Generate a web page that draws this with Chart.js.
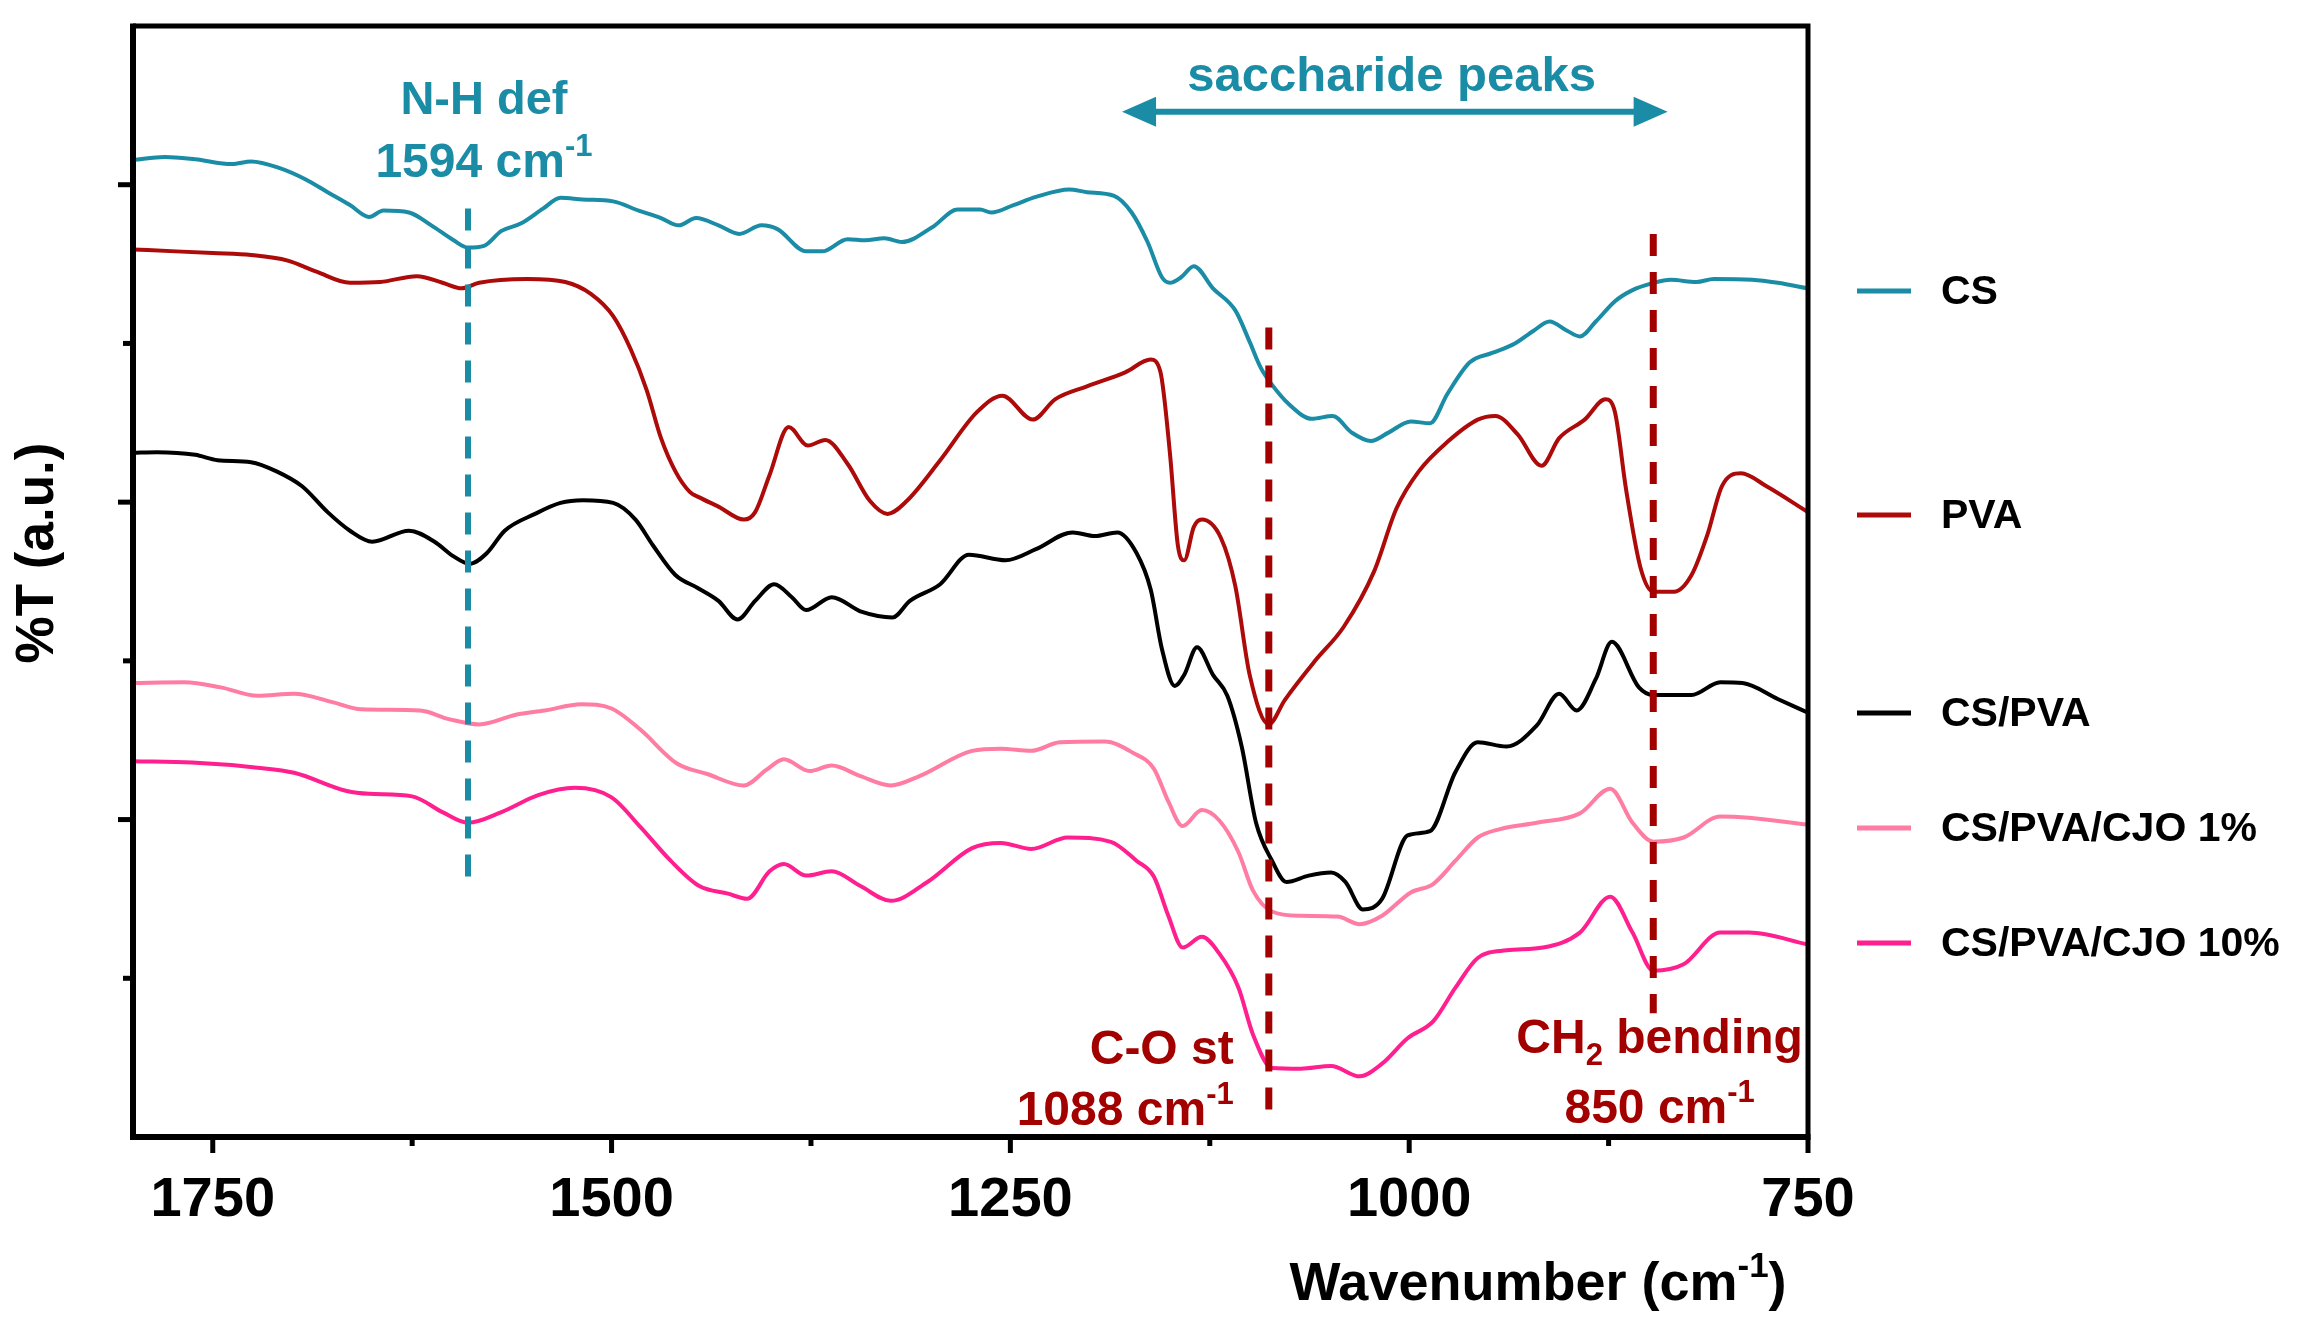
<!DOCTYPE html>
<html>
<head>
<meta charset="utf-8">
<script src="https://cdn.jsdelivr.net/npm/chart.js@4.4.1/dist/chart.umd.min.js"></script>
<style>
  html, body { margin: 0; padding: 0; background: #fff; }
  #wrap { width: 2306px; height: 1325px; }
</style>
</head>
<body>
<div id="wrap"><canvas id="ftir" width="2306" height="1325"></canvas></div>
<script>
// FTIR spectra, wavenumber (cm-1) vs offset %T (a.u.)
const csWn = [1800,1780,1761,1738,1726,1708,1692,1678,1664,1652,1643,1627,1613,1599,1590,1580,1569,1557,1543,1532,1518,1499,1483,1469,1458,1447,1433,1420,1406,1396,1378,1368,1352,1341,1329,1318,1299,1283,1269,1262,1248,1234,1213,1202,1185,1174,1164,1155,1150,1143,1135,1123,1109,1100,1093,1087,1075,1061,1048,1036,1024,1013,999,987,976,962,948,934,922,912,901,893,883,871,860,848,836,820,809,785,769,750];
const csT = [6.156,6.175,6.16,6.13,6.147,6.105,6.035,5.953,5.872,5.797,5.837,5.825,5.744,5.65,5.604,5.615,5.709,5.755,5.849,5.918,5.907,5.895,5.837,5.79,5.744,5.79,5.744,5.69,5.744,5.72,5.58,5.58,5.657,5.65,5.662,5.639,5.732,5.844,5.844,5.825,5.872,5.923,5.97,5.953,5.93,5.825,5.639,5.417,5.382,5.417,5.487,5.347,5.208,5.01,4.846,4.753,4.613,4.525,4.543,4.438,4.385,4.438,4.508,4.497,4.683,4.881,4.94,4.998,5.08,5.138,5.08,5.044,5.138,5.266,5.336,5.378,5.401,5.387,5.406,5.401,5.382,5.347];

const pvaWn = [1800,1773,1750,1726,1703,1685,1664,1645,1622,1606,1594,1583,1553,1529,1513,1499,1488,1478,1469,1460,1451,1445,1433,1417,1410,1401,1389,1377,1366,1352,1338,1327,1315,1294,1271,1255,1236,1222,1202,1178,1162,1156,1150,1145,1141,1135,1130,1118,1109,1100,1088,1078,1059,1041,1022,1008,994,976,957,946,932,917,906,890,877,871,864,855,847,834,823,813,804,792,776,750];
const pvaT = [5.592,5.58,5.569,5.557,5.522,5.452,5.382,5.387,5.424,5.382,5.347,5.382,5.406,5.387,5.312,5.172,4.963,4.706,4.403,4.194,4.065,4.03,3.972,3.89,3.937,4.17,4.473,4.357,4.392,4.24,4.007,3.926,4.007,4.264,4.567,4.671,4.52,4.648,4.73,4.818,4.898,4.823,4.31,3.727,3.634,3.844,3.89,3.774,3.471,2.912,2.6,2.753,3.0,3.215,3.564,3.96,4.194,4.38,4.52,4.543,4.427,4.229,4.403,4.52,4.648,4.567,4.077,3.587,3.436,3.436,3.541,3.797,4.1,4.182,4.1,3.937];

const blendWn = [1800,1785,1761,1747,1726,1710,1694,1678,1664,1650,1627,1611,1599,1589,1578,1567,1548,1532,1518,1499,1485,1474,1460,1446,1433,1421,1410,1398,1387,1378,1362,1343,1324,1313,1294,1276,1253,1234,1211,1197,1183,1171,1162,1155,1147,1141,1133,1123,1114,1105,1096,1086,1077,1063,1049,1040,1029,1017,1001,987,971,957,939,920,906,895,883,873,856,847,823,805,791,769,750];
const blendT = [4.31,4.315,4.298,4.264,4.252,4.194,4.1,3.937,3.82,3.751,3.82,3.751,3.658,3.611,3.681,3.82,3.926,3.995,4.012,3.995,3.89,3.727,3.541,3.459,3.378,3.261,3.378,3.483,3.401,3.32,3.401,3.308,3.273,3.378,3.483,3.669,3.634,3.704,3.809,3.786,3.809,3.681,3.448,3.075,2.842,2.912,3.086,2.912,2.78,2.46,1.98,1.741,1.607,1.647,1.666,1.607,1.434,1.5,1.9,1.927,2.3,2.487,2.46,2.593,2.793,2.687,2.886,3.12,2.833,2.785,2.785,2.865,2.86,2.76,2.673];

const cjo1Wn = [1800,1768,1745,1722,1699,1675,1657,1620,1602,1583,1560,1542,1519,1500,1482,1459,1440,1417,1403,1392,1376,1362,1344,1325,1307,1274,1256,1237,1219,1191,1173,1160,1151,1142,1130,1119,1107,1098,1086,1068,1045,1031,1017,999,985,971,957,943,920,893,874,860,847,828,805,787,750];
const cjo1T = [2.86,2.865,2.833,2.78,2.793,2.74,2.695,2.687,2.633,2.599,2.66,2.687,2.727,2.7,2.567,2.353,2.287,2.215,2.313,2.38,2.306,2.34,2.274,2.215,2.274,2.433,2.447,2.433,2.487,2.492,2.42,2.32,2.114,1.959,2.06,1.994,1.794,1.554,1.421,1.394,1.389,1.341,1.394,1.541,1.594,1.741,1.887,1.94,1.98,2.039,2.194,1.98,1.861,1.887,2.02,2.012,1.967];

const cjo10Wn = [1800,1763,1722,1699,1666,1652,1625,1606,1590,1569,1546,1523,1500,1482,1463,1445,1427,1415,1401,1392,1378,1362,1344,1325,1302,1274,1256,1237,1214,1187,1171,1160,1151,1142,1130,1119,1107,1098,1086,1068,1049,1031,1017,1001,985,971,957,939,916,893,874,860,847,828,805,787,750];
const cjo10T = [2.367,2.359,2.327,2.295,2.18,2.162,2.146,2.047,1.98,2.047,2.154,2.2,2.14,1.954,1.741,1.581,1.533,1.501,1.674,1.72,1.647,1.674,1.581,1.488,1.607,1.82,1.853,1.815,1.887,1.86,1.741,1.64,1.394,1.194,1.261,1.155,0.941,0.648,0.435,0.43,0.448,0.382,0.462,0.622,0.728,0.941,1.128,1.176,1.194,1.288,1.514,1.288,1.048,1.088,1.288,1.288,1.213];

const seriesNames = ['CS', 'PVA', 'CS/PVA', 'CS/PVA/CJO 1%', 'CS/PVA/CJO 10%'];
const xTickValues = [750, 875, 1000, 1125, 1250, 1375, 1500, 1625, 1750];
const xTickLabels = [1750, 1500, 1250, 1000, 750];

// colours
const TEAL = '#1a8ca6';
const RED = '#ad0a0a';
const ANNO_RED = '#a30000';
const PINK = '#ff7ca3';
const HOT = '#ff1f8e';
const seriesColors = [TEAL, RED, '#000000', PINK, HOT];

const FONT = '"Liberation Sans", Arial, sans-serif';

function pairs(wn, t) {
    return wn.map((w, i) => ({ x: w, y: t[i] }));
}

// draws text made of pieces (normal / super / subscript)
function richText(ctx, segs, x, y, align, color) {
    let total = 0;
    segs.forEach(s => {
        ctx.font = 'bold ' + s[1] + 'px ' + FONT;
        s.w = ctx.measureText(s[0]).width;
        total += s.w;
    });
    let cx = align === 'center' ? x - total / 2 : (align === 'right' ? x - total : x);
    ctx.fillStyle = color;
    ctx.textAlign = 'left';
    ctx.textBaseline = 'alphabetic';
    segs.forEach(s => {
        ctx.font = 'bold ' + s[1] + 'px ' + FONT;
        ctx.fillText(s[0], cx, y + (s[2] || 0));
        cx += s.w;
    });
}

const decorations = {
    id: 'decorations',
    afterDatasetsDraw(chart) {
        const ctx = chart.ctx;
        const ca = chart.chartArea;
        const xs = chart.scales.x, ys = chart.scales.y;
        const X = v => xs.getPixelForValue(v);
        const Y = v => ys.getPixelForValue(v);
        ctx.save();

        // dashed marker lines
        ctx.lineCap = 'butt';
        ctx.setLineDash([22, 16]);
        ctx.strokeStyle = TEAL;
        ctx.lineWidth = 6;
        ctx.beginPath(); ctx.moveTo(X(1590), Y(5.85)); ctx.lineTo(X(1590), Y(1.62)); ctx.stroke();
        ctx.strokeStyle = ANNO_RED;
        ctx.lineWidth = 7;
        ctx.beginPath(); ctx.moveTo(X(1088), Y(5.10)); ctx.lineTo(X(1088), Y(0.16)); ctx.stroke();
        ctx.beginPath(); ctx.moveTo(X(847), Y(5.69)); ctx.lineTo(X(847), Y(0.78)); ctx.stroke();
        ctx.setLineDash([]);

        // saccharide double arrow
        const ay = Y(6.46), ax1 = X(1180), ax2 = X(838);
        ctx.strokeStyle = TEAL;
        ctx.fillStyle = TEAL;
        ctx.lineWidth = 6;
        ctx.beginPath(); ctx.moveTo(ax1 + 20, ay); ctx.lineTo(ax2 - 20, ay); ctx.stroke();
        ctx.beginPath(); ctx.moveTo(ax1, ay); ctx.lineTo(ax1 + 34, ay - 15); ctx.lineTo(ax1 + 34, ay + 15); ctx.closePath(); ctx.fill();
        ctx.beginPath(); ctx.moveTo(ax2, ay); ctx.lineTo(ax2 - 34, ay - 15); ctx.lineTo(ax2 - 34, ay + 15); ctx.closePath(); ctx.fill();

        // annotation texts
        richText(ctx, [['saccharide peaks', 49]], X(1011), Y(6.59), 'center', TEAL);
        richText(ctx, [['N-H def', 47]], X(1580), Y(6.446), 'center', TEAL);
        richText(ctx, [['1594 cm', 48], ['-1', 31, -21]], X(1580), Y(6.05), 'center', TEAL);
        richText(ctx, [['C-O st', 48]], X(1110), Y(0.46), 'right', ANNO_RED);
        richText(ctx, [['1088 cm', 48], ['-1', 31, -21]], X(1110), Y(0.076), 'right', ANNO_RED);
        richText(ctx, [['CH', 48], ['2', 31, 12], [' bending', 48]], X(843), Y(0.53), 'center', ANNO_RED);
        richText(ctx, [['850 cm', 48], ['-1', 31, -21]], X(843), Y(0.088), 'center', ANNO_RED);

        // frame
        ctx.strokeStyle = '#000';
        ctx.lineWidth = 5;
        ctx.beginPath();
        ctx.moveTo(ca.left, ca.top); ctx.lineTo(ca.right, ca.top); ctx.lineTo(ca.right, ca.bottom);
        ctx.stroke();
        ctx.lineWidth = 6;
        ctx.beginPath();
        ctx.moveTo(ca.left, ca.top - 2.5); ctx.lineTo(ca.left, ca.bottom); ctx.lineTo(ca.right + 2.5, ca.bottom);
        ctx.stroke();

        // ticks
        ctx.lineWidth = 5;
        xs.ticks.forEach(t => {
            const px = X(t.value);
            const len = t.value % 250 === 0 ? 16 : 9;
            ctx.beginPath(); ctx.moveTo(px, ca.bottom); ctx.lineTo(px, ca.bottom + len); ctx.stroke();
        });
        [1, 2, 3, 4, 5, 6].forEach(v => {
            const len = v % 2 === 0 ? 15 : 10;
            ctx.beginPath(); ctx.moveTo(ca.left, Y(v)); ctx.lineTo(ca.left - len, Y(v)); ctx.stroke();
        });

        // legend
        const legendY = [5.331, 3.919, 2.672, 1.947, 1.222];
        seriesNames.forEach((name, i) => {
            const ly = Y(legendY[i]);
            ctx.strokeStyle = seriesColors[i];
            ctx.lineWidth = 5;
            ctx.beginPath(); ctx.moveTo(ca.right + 49, ly); ctx.lineTo(ca.right + 103, ly); ctx.stroke();
            ctx.fillStyle = '#000';
            ctx.font = 'bold 41px ' + FONT;
            ctx.textAlign = 'left';
            ctx.textBaseline = 'middle';
            ctx.fillText(name, ca.right + 133, ly + 2);
        });

        // axis titles
        richText(ctx, [['Wavenumber (cm', 54], ['-1', 35, -23], [')', 54]], 1538, ca.bottom + 163, 'center', '#000');
        ctx.save();
        ctx.translate(ca.left - 80, 553);
        ctx.rotate(-Math.PI / 2);
        richText(ctx, [['%T (a.u.)', 53]], 0, 0, 'center', '#000');
        ctx.restore();

        ctx.restore();
    }
};

const lineSets = [
    [csWn, csT], [pvaWn, pvaT], [blendWn, blendT], [cjo1Wn, cjo1T], [cjo10Wn, cjo10T]
];

new Chart(document.getElementById('ftir'), {
    type: 'line',
    data: {
        datasets: lineSets.map((s, i) => ({
            label: seriesNames[i],
            data: pairs(s[0], s[1]),
            borderColor: seriesColors[i],
            borderWidth: 4,
            pointRadius: 0,
            fill: false,
            tension: 0.4,
            cubicInterpolationMode: 'monotone'
        }))
    },
    options: {
        responsive: false,
        animation: false,
        devicePixelRatio: 1,
        layout: { padding: { left: 133, right: 498, top: 26, bottom: 0 } },
        plugins: { legend: { display: false }, tooltip: { enabled: false } },
        scales: {
            x: {
                type: 'linear',
                reverse: true,
                min: 750,
                max: 1800,
                grid: { display: false },
                border: { display: false },
                afterBuildTicks(scale) {
                    scale.ticks = xTickValues.map(v => ({ value: v }));
                },
                afterFit(scale) { scale.height = 188; },
                ticks: {
                    includeBounds: false,
                    stepSize: 125,
                    autoSkip: false,
                    maxRotation: 0,
                    padding: 22,
                    color: '#000',
                    font: { family: FONT, size: 56, weight: 'bold' },
                    callback: v => xTickLabels.includes(v) ? String(v) : ''
                }
            },
            y: {
                display: false,
                min: 0,
                max: 7
            }
        }
    },
    plugins: [decorations]
});
</script>
</body>
</html>
